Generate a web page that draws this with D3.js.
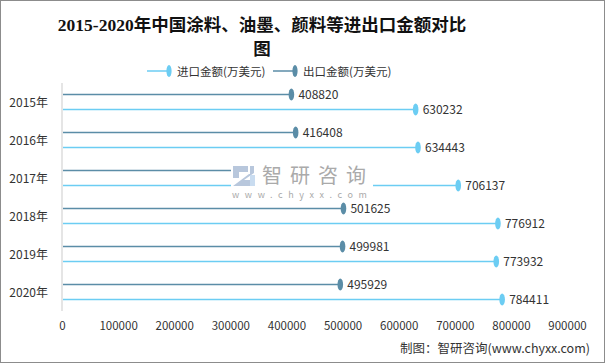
<!DOCTYPE html>
<html>
<head>
<meta charset="utf-8">
<script src="https://cdn.jsdelivr.net/npm/d3@7"></script>
<style>
  body { margin: 0; background: #fff; }
  svg { display: block; font-family: "Microsoft YaHei", "Noto Sans CJK SC", sans-serif; }
</style>
</head>
<body>
<script>
var years = ["2015年", "2016年", "2017年", "2018年", "2019年", "2020年"];
var importValues = [630232, 634443, 706137, 776912, 773932, 784411];
// 2017 export value is hidden under the watermark in the source picture, estimated
var exportValues = [408820, 416408, 445000, 501625, 499981, 495929];
var xTicks = [0, 100000, 200000, 300000, 400000, 500000, 600000, 700000, 800000, 900000];

var width = 605, height = 363;
var margin = {top: 83, left: 62, right: 38, bottom: 52};
var lightColor = "#6ccdf3", darkColor = "#5b8da7";

var svg = d3.select("body").append("svg")
  .attr("width", width)
  .attr("height", height);

svg.append("rect")
  .attr("x", 0.5).attr("y", 0.5)
  .attr("width", width - 1).attr("height", height - 1)
  .attr("fill", "#fff").attr("stroke", "#8c8c8c");

// title
var title = svg.append("text")
  .attr("text-anchor", "middle")
  .attr("font-family", "'Liberation Serif', 'Noto Sans CJK SC', serif")
  .attr("font-weight", "bold")
  .attr("font-size", 17.5)
  .attr("fill", "#111");
title.append("tspan").attr("x", 262).attr("y", 31).text("2015-2020年中国涂料、油墨、颜料等进出口金额对比");
title.append("tspan").attr("x", 262).attr("y", 55).text("图");

// legend
var legend = [
  {name: "进口金额(万美元)", color: lightColor, x: 147},
  {name: "出口金额(万美元)", color: darkColor, x: 273}
];
var lg = svg.selectAll(".legend").data(legend).enter().append("g")
  .attr("class", "legend")
  .attr("transform", function(d) { return "translate(" + d.x + ",71)"; });
lg.append("line").attr("x1", 0).attr("x2", 22).attr("y1", 0).attr("y2", 0)
  .attr("stroke", function(d) { return d.color; }).attr("stroke-width", 1.5);
lg.append("ellipse").attr("cx", 22).attr("cy", 0).attr("rx", 2.6).attr("ry", 6)
  .attr("fill", function(d) { return d.color; });
lg.append("text").attr("x", 30).attr("y", 4.5)
  .attr("font-size", 11.5).attr("fill", "#333")
  .text(function(d) { return d.name; });

var x = d3.scaleLinear()
  .domain([0, 900000])
  .range([margin.left, 567]);

var y = d3.scaleBand()
  .domain(years)
  .range([margin.top, height - margin.bottom]);

// y axis
svg.append("line")
  .attr("x1", margin.left).attr("x2", margin.left)
  .attr("y1", margin.top).attr("y2", height - margin.bottom)
  .attr("stroke", "#d4d4d4").attr("stroke-width", 1.2);

svg.selectAll(".ylab").data(years).enter().append("text")
  .attr("class", "ylab")
  .attr("x", 48)
  .attr("y", function(d) { return y(d) + y.bandwidth() / 2 + 4.5; })
  .attr("text-anchor", "end")
  .attr("font-size", 12)
  .attr("fill", "#333")
  .text(function(d) { return d; });

// x axis labels
var xAxis = svg.append("g")
  .attr("transform", "translate(0," + (height - margin.bottom + 8) + ")")
  .call(d3.axisBottom(x).tickValues(xTicks).tickSize(0).tickFormat(d3.format("d")));
xAxis.select(".domain").remove();
xAxis.selectAll("text")
  .attr("font-family", "'Microsoft YaHei', 'Noto Sans CJK SC', sans-serif")
  .attr("font-size", 11.5).attr("fill", "#333");

var series = [
  {values: exportValues, color: darkColor, offset: -7.5, hidden: [2]},
  {values: importValues, color: lightColor, offset: 7.5, hidden: []}
];

series.forEach(function(s) {
  var g = svg.append("g");
  g.selectAll("line").data(years).enter().append("line")
    .attr("x1", margin.left + 1)
    .attr("x2", function(d, i) { return x(s.values[i]); })
    .attr("y1", function(d) { return y(d) + y.bandwidth() / 2 + s.offset; })
    .attr("y2", function(d) { return y(d) + y.bandwidth() / 2 + s.offset; })
    .attr("stroke", s.color).attr("stroke-width", 1.6);
  g.selectAll("ellipse").data(years).enter().append("ellipse")
    .attr("cx", function(d, i) { return x(s.values[i]); })
    .attr("cy", function(d) { return y(d) + y.bandwidth() / 2 + s.offset; })
    .attr("rx", 2.8).attr("ry", 6)
    .attr("fill", s.color);
  // labels covered by the watermark in the reference are left out
  g.selectAll("text").data(years.filter(function(d, i) { return s.hidden.indexOf(i) < 0; }))
    .enter().append("text")
    .attr("x", function(d) { return x(s.values[years.indexOf(d)]) + 7; })
    .attr("y", function(d) { return y(d) + y.bandwidth() / 2 + s.offset + 4.5; })
    .attr("font-size", 12).attr("fill", "#333")
    .text(function(d) { return s.values[years.indexOf(d)]; });
});

// watermark
var wm = svg.append("g").attr("transform", "translate(231,160)");
wm.append("rect").attr("x", 0).attr("y", 0).attr("width", 142).attr("height", 39).attr("fill", "#fff");
wm.append("path").attr("d", "M2,6 H17 V12 H8 V18 H2 Z M19,6 H23 V13 L13,20 H19 V26 H2 L18,14 H19 Z")
  .attr("fill", "#b8c7dc");
wm.append("rect").attr("x", 19).attr("y", 15).attr("width", 5).attr("height", 11).attr("fill", "#c9dcf0");
wm.append("text").attr("x", 31).attr("y", 22.5)
  .attr("font-size", 20).attr("letter-spacing", 8).attr("fill", "#aaa")
  .text("智研咨询");
wm.append("text").attr("x", 1).attr("y", 38)
  .attr("font-size", 9).attr("letter-spacing", 5.6).attr("fill", "#aaa")
  .text("www.chyxx.com");

// source
svg.append("text")
  .attr("x", 590).attr("y", 353)
  .attr("text-anchor", "end")
  .attr("font-size", 12.5).attr("fill", "#333")
  .text("制图：智研咨询(www.chyxx.com)");
</script>
</body>
</html>
